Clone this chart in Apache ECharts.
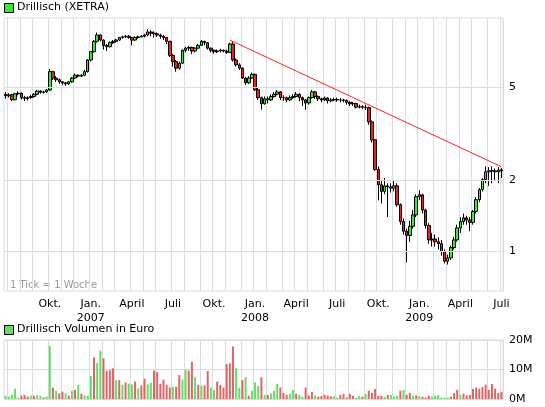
<!DOCTYPE html>
<html><head><meta charset="utf-8">
<script src="https://cdn.jsdelivr.net/npm/echarts@6/dist/echarts.min.js"></script>
<style>html,body{margin:0;background:#fff}#c{width:545px;height:407px}</style>
</head><body><div id="c"></div>
<script>
// weekly candles: [open, close, low, high]
const candles = [
[4.65,4.58,4.45,4.75],[4.58,4.63,4.5,4.7],[4.63,4.41,4.35,4.68],[4.41,4.67,4.38,4.72],[4.67,4.7,4.6,4.78],
[4.7,4.5,4.42,4.74],[4.5,4.46,4.35,4.58],[4.46,4.5,4.38,4.56],[4.5,4.55,4.45,4.62],[4.55,4.65,4.5,4.7],
[4.65,4.8,4.6,4.85],[4.8,4.74,4.68,4.84],[4.74,4.76,4.68,4.82],[4.76,4.85,4.7,4.9],[4.85,5.8,4.8,5.95],
[5.8,5.45,5.35,5.85],[5.45,5.36,5.25,5.55],[5.36,5.25,5.15,5.42],[5.25,5.2,5.1,5.3],[5.2,5.15,5.05,5.25],
[5.15,5.25,5.1,5.3],[5.25,5.45,5.2,5.5],[5.45,5.6,5.4,5.7],[5.6,5.55,5.48,5.65],[5.55,5.6,5.5,5.68],
[5.6,5.8,5.55,5.9],[5.8,6.5,5.75,6.55],[6.5,7.05,6.4,7.1],[7.05,7.8,7.0,7.9],[7.8,8.3,7.7,8.5],
[8.3,7.9,7.8,8.35],[7.9,7.5,7.2,7.95],[7.5,7.4,7.1,7.6],[7.4,7.7,7.35,7.8],[7.7,7.8,7.6,7.9],
[7.8,7.9,7.7,8.0],[7.9,8.1,7.85,8.15],[8.1,8.15,8.0,8.25],[8.15,8.2,8.05,8.3],[8.2,8.1,8.0,8.3],
[8.1,7.9,7.5,8.15],[7.9,8.1,7.85,8.2],[8.1,8.15,8.0,8.25],[8.15,8.2,8.1,8.3],[8.2,8.3,8.1,8.4],
[8.3,8.55,8.2,8.8],[8.55,8.45,8.2,8.7],[8.45,8.4,8.1,8.6],[8.4,8.3,8.15,8.5],[8.3,8.2,8.0,8.4],
[8.2,8.1,7.9,8.3],[8.1,7.8,7.6,8.15],[7.8,6.8,6.7,7.85],[6.8,6.4,6.1,6.9],[6.4,6.0,5.8,6.5],
[6.0,6.3,5.9,6.4],[6.3,7.15,6.25,7.2],[7.15,7.3,7.0,7.4],[7.3,7.35,7.1,7.45],[7.35,7.1,6.9,7.4],
[7.1,7.3,7.0,7.35],[7.3,7.5,7.25,7.6],[7.5,7.8,7.45,7.9],[7.8,7.7,7.5,7.85],[7.7,7.3,7.2,7.75],
[7.3,7.15,7.0,7.35],[7.15,7.05,6.9,7.2],[7.05,7.1,6.95,7.2],[7.1,7.15,7.0,7.25],[7.15,7.1,7.0,7.2],
[7.1,7.0,6.9,7.2],[7.0,7.6,6.95,7.7],[7.6,6.5,6.4,7.8],[6.5,6.2,6.1,6.6],[6.2,6.0,5.9,6.3],
[6.0,5.45,5.4,6.05],[5.45,5.2,5.1,5.5],[5.2,5.45,5.15,5.55],[5.45,5.65,5.4,5.75],[5.65,4.86,4.8,5.7],
[4.86,4.5,4.4,4.95],[4.5,4.24,4.0,4.55],[4.24,4.45,4.2,4.55],[4.45,4.4,4.25,4.55],[4.4,4.55,4.35,4.65],
[4.55,4.65,4.5,4.75],[4.65,4.76,4.6,4.85],[4.76,4.5,4.4,4.8],[4.5,4.5,4.35,4.6],[4.5,4.4,4.3,4.55],
[4.4,4.5,4.35,4.6],[4.5,4.55,4.45,4.65],[4.55,4.65,4.5,4.75],[4.65,4.5,4.35,4.7],[4.5,4.4,4.15,4.55],
[4.4,4.27,4.0,4.45],[4.27,4.5,4.2,4.55],[4.5,4.76,4.45,4.85],[4.76,4.55,4.45,4.8],[4.55,4.45,4.35,4.6],
[4.45,4.4,4.3,4.5],[4.4,4.48,4.35,4.55],[4.48,4.36,4.25,4.52],[4.36,4.4,4.3,4.48],[4.4,4.42,4.35,4.5],
[4.42,4.4,4.32,4.5],[4.4,4.4,4.3,4.48],[4.4,4.38,4.3,4.45],[4.38,4.3,4.2,4.42],[4.3,4.24,4.15,4.35],
[4.24,4.25,4.15,4.32],[4.25,4.1,4.05,4.28],[4.1,4.12,4.05,4.2],[4.12,4.1,4.02,4.18],[4.1,4.08,4.0,4.2],
[4.08,3.55,3.45,4.12],[3.55,2.98,2.9,3.6],[2.98,2.23,2.2,3.0],[2.23,1.92,1.65,2.3],[1.92,1.8,1.6,2.0],
[1.8,1.9,1.75,2.05],[1.9,1.88,1.4,1.95],[1.88,1.86,1.78,1.95],[1.86,1.9,1.8,2.0],[1.9,1.58,1.55,1.95],
[1.58,1.34,1.3,1.6],[1.34,1.22,1.18,1.38],[1.22,1.17,0.9,1.25],[1.17,1.28,1.1,1.35],[1.28,1.43,1.25,1.5],
[1.43,1.71,1.4,1.75],[1.71,1.74,1.65,1.82],[1.74,1.5,1.45,1.76],[1.5,1.29,1.25,1.52],[1.29,1.12,1.08,1.32],
[1.12,1.13,1.05,1.2],[1.13,1.1,1.05,1.18],[1.1,1.08,1.02,1.15],[1.08,1.0,0.96,1.12],[1.0,0.91,0.89,1.02],
[0.91,0.94,0.88,0.97],[0.94,1.04,0.92,1.06],[1.04,1.12,1.02,1.15],[1.12,1.26,1.1,1.3],[1.26,1.34,1.2,1.4],
[1.34,1.39,1.3,1.45],[1.39,1.36,1.3,1.42],[1.36,1.33,1.22,1.4],[1.33,1.48,1.3,1.5],[1.48,1.66,1.45,1.7],
[1.66,1.83,1.62,1.86],[1.83,2.02,1.8,2.05],[2.02,2.18,1.95,2.3],[2.18,2.2,1.9,2.28],[2.2,2.2,1.95,2.3],
[2.2,2.18,2.0,2.25],[2.18,2.22,1.95,2.28],[2.22,2.2,2.05,2.26]
];
// weekly volume in million Euro
const volume = [1.1,0.8,1.4,3.5,0.5,1.1,1.4,0.8,1.1,1.1,1.4,1.1,0.5,0.8,18,3.8,2.8,1.9,2.5,1.9,
1.1,2.8,3.1,4.8,1.8,1.2,1.2,7.8,14.1,12.2,16.4,13.8,9.6,9.8,10.4,6.4,6.4,4.8,5.6,5.2,
4.9,5.9,3.6,4.6,6.9,4.9,5.6,9.6,9.1,5.1,6.6,4.8,3.9,4.1,4.1,8.1,6.6,9.9,9.6,12.6,
7.4,4.8,4.4,4.6,9.5,3.9,3.1,5.9,4.8,3.9,11.8,12.1,17.8,10.4,3.8,6.4,7.4,1.1,2.8,5.6,
4.4,7.4,1.4,1.4,1.9,2.8,5.1,3.9,2.1,1.4,1.8,3.1,1.8,1.4,0.8,3.9,1.2,2.4,1.2,0.8,
1.0,1.4,1.2,0.9,0.9,0.5,1.4,1.7,0.5,1.7,1.1,0.5,1.0,0.8,1.7,2.8,2.1,3.4,1.1,1.1,
0.8,1.4,1.4,0.8,1.1,2.8,3.1,1.4,2.1,1.1,1.2,1.0,0.8,0.5,1.1,0.8,1.1,1.4,0.5,0.5,
0.5,0.8,1.9,3.1,1.4,1.8,1.2,1.4,3.4,3.9,3.5,4.1,4.9,3.1,5.1,3.5,2.1,2.4];
const volumeDir = "ggggg rrrgr ggrgg rgrrg rgrgr gggrg grrrr grgrg gr grrgg rrrrr rgrrg grrgr grrgg rrrrr rggrg rgggr grggg rrrgg rggrr rgrrr rrggr rrrrg grgrr rrrgr gggrg rrgrg rrrgg ggggr rrg".replace(/ /g,'');
const trend = [[71, 7.9], [157, 2.29]];
const priceTicks = [1, 2, 5];
const volTicks = [0, 10, 20];
const startDate = '2006-06-30';

const weeks = [];
{ const d0 = new Date(startDate + 'T12:00:00Z');
  for (let i = 0; i < candles.length; i++) weeks.push(new Date(d0.getTime() + i * 7 * 864e5)); }
const cats = weeks.map(d => d.toISOString().slice(0, 10));
const isMonthStart = i => i > 0 && weeks[i].getUTCMonth() !== weeks[i - 1].getUTCMonth();
const isQuarter = i => i > 4 && isMonthStart(i) && weeks[i].getUTCMonth() % 3 === 0;
const monthName = d => { const m = d.getUTCMonth();
  return m === 0 ? 'Jan.\n' + d.getUTCFullYear() : m === 3 ? 'April' : m === 6 ? 'Juli' : 'Okt.'; };

const font = 'DejaVu Sans';
const gridC = '#dcdcdc';
const chart = echarts.init(document.getElementById('c'), null, {renderer: 'canvas'});
chart.setOption({
  animation: false,
  textStyle: {fontFamily: font},
  grid: [
    {left: 4, right: 42, top: 18, bottom: 116, show: true, borderColor: gridC, borderWidth: 1},
    {left: 4, right: 42, top: 340, bottom: 8, show: true, borderColor: gridC, borderWidth: 1}
  ],
  xAxis: [
    {type: 'category', data: cats, gridIndex: 0, boundaryGap: true,
     axisLine: {show: false}, axisTick: {show: false},
     splitLine: {show: true, interval: (i) => isMonthStart(i), lineStyle: {color: gridC}},
     axisLabel: {interval: (i) => isQuarter(i), formatter: (v, i) => monthName(weeks[i]),
       color: '#000', fontSize: 11, margin: 6, lineHeight: 14}},
    {type: 'category', data: cats, gridIndex: 1, boundaryGap: true,
     axisLine: {show: false}, axisTick: {show: false}, axisLabel: {show: false},
     splitLine: {show: true, interval: (i) => isMonthStart(i), lineStyle: {color: gridC}}}
  ],
  yAxis: [
    {type: 'log', gridIndex: 0, min: 0.68, max: 9.8, position: 'right',
     axisLabel: {show: false}, splitLine: {show: false}, axisLine: {show: false}, axisTick: {show: false}},
    {type: 'value', gridIndex: 1, min: 0, max: 20, interval: 10, position: 'right',
     axisLine: {show: false}, axisTick: {show: false},
     splitLine: {lineStyle: {color: gridC}},
     axisLabel: {formatter: v => v + 'M', color: '#000', fontSize: 11, margin: 6}}
  ],
  series: [
    {type: 'candlestick', xAxisIndex: 0, yAxisIndex: 0, data: candles, barWidth: 3,
     itemStyle: {color: '#33ee33', color0: '#ee2222', borderColor: '#000', borderColor0: '#000', borderWidth: 1},
     markLine: {silent: true, symbol: 'none', animation: false,
       data: [
         ...priceTicks.map(p => ({yAxis: p, lineStyle: {color: gridC, type: 'solid', width: 1},
            label: {show: true, position: 'end', formatter: String(p), color: '#000', fontSize: 11, distance: 6}})),
         [{coord: trend[0], lineStyle: {color: '#ff2020', type: 'solid', width: 1}, label: {show: false}},
          {coord: trend[1]}]
       ]}},
    {type: 'bar', xAxisIndex: 1, yAxisIndex: 1, barWidth: 2,
     data: volume.map((v, i) => ({value: v, itemStyle: {color: volumeDir[i] === 'g' ? '#66dd66' : '#dd6666'}}))}
  ],
  graphic: [
    {type: 'rect', left: 4, top: 3, shape: {width: 9, height: 9}, style: {fill: '#33ee33', stroke: '#000'}},
    {type: 'text', left: 17, top: 2, style: {text: 'Drillisch (XETRA)', font: '11px DejaVu Sans', fill: '#000'}},
    {type: 'rect', left: 4, top: 325, shape: {width: 9, height: 9}, style: {fill: '#66dd66', stroke: '#000'}},
    {type: 'text', left: 17, top: 324, style: {text: 'Drillisch Volumen in Euro', font: '11px DejaVu Sans', fill: '#000'}},
    {type: 'text', left: 10, top: 280, style: {text: '1 Tick = 1 Woche', font: '10px DejaVu Sans', fill: '#999'}}
  ]
});
</script></body></html>
